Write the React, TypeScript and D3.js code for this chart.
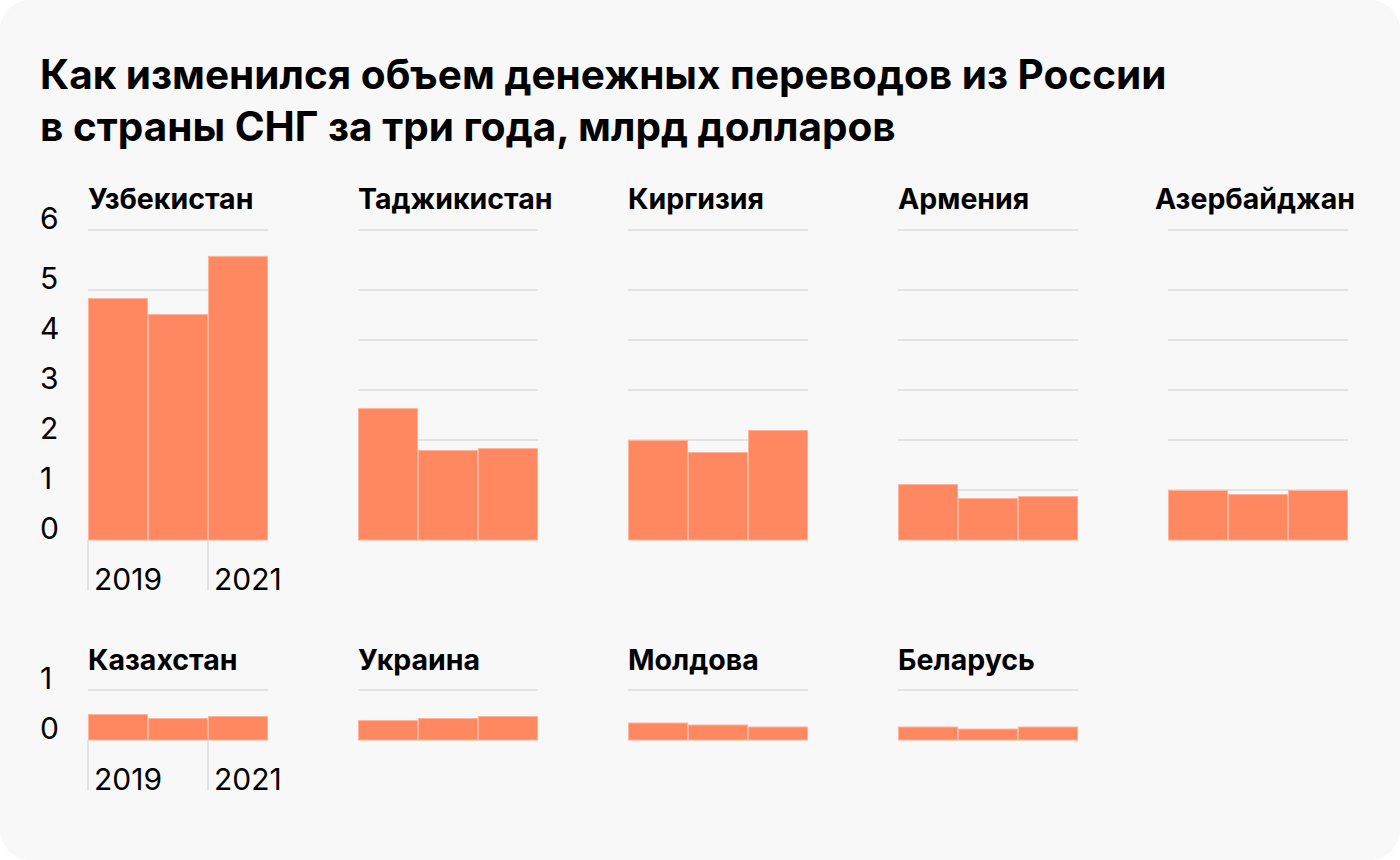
import React from 'react';
import * as d3 from 'd3';

// млрд долларов, 2019–2021
const years = ['2019', '2020', '2021'];
const topCountries = ['Узбекистан', 'Таджикистан', 'Киргизия', 'Армения', 'Азербайджан'];
const topValues = [
  [4.83, 4.51, 5.56],
  [2.63, 1.79, 1.83],
  [1.99, 1.75, 2.19],
  [1.11, 0.83, 0.87],
  [0.99, 0.91, 0.99],
];
const bottomCountries = ['Казахстан', 'Украина', 'Молдова', 'Беларусь'];
const bottomValues = [
  [0.51, 0.43, 0.47],
  [0.39, 0.43, 0.47],
  [0.34, 0.3, 0.26],
  [0.26, 0.22, 0.26],
];
const topTicks = [0, 1, 2, 3, 4, 5, 6];
const bottomTicks = [0, 1];
const yearLabels = ['2019', '2021'];

const W = 1400;
const H = 860;
const FONT = 'Inter, "Noto Sans", sans-serif';
const BAR = '#ff8860';
const GRID = '#e3e3e3';

// panel width 180, step 270
const panelX = d3.scaleBand<number>().domain(d3.range(5)).range([88, 1348]).paddingInner(1 / 3).paddingOuter(0);

type PanelProps = {
  name: string;
  values: number[];
  x0: number;
  y: d3.ScaleLinear<number, number>;
  ticks: number[];
  titleY: number;
  titleX?: number;
  showYears: boolean;
};

const Panel: React.FC<PanelProps> = ({ name, values, x0, y, ticks, titleY, titleX, showYears }) => {
  const w = panelX.bandwidth();
  const x = d3.scaleBand<string>().domain(years).range([x0, x0 + w]).padding(0);
  const base = y(0);
  return (
    <g>
      <text x={titleX ?? x0} y={titleY} fontFamily={FONT} fontWeight={700} fontSize={28.5} fill="#000">
        {name}
      </text>
      {ticks.filter(t => t > 0).map(t => (
        <line key={t} x1={x0} x2={x0 + w} y1={y(t)} y2={y(t)} stroke={GRID} strokeWidth={2} />
      ))}
      {values.map((v, i) => (
        <rect
          key={years[i]}
          x={x(years[i])! + 0.5}
          y={y(v)}
          width={x.bandwidth() - 1}
          height={base - y(v)}
          fill={BAR}
          stroke="#ffb49b"
          strokeWidth={1}
        />
      ))}
      {showYears &&
        yearLabels.map(yr => {
          const tx = x(yr)!;
          return (
            <g key={yr}>
              <line x1={tx} x2={tx} y1={base} y2={base + 50} stroke={GRID} strokeWidth={2} />
              <text x={tx + 6} y={base + 50} fontFamily={FONT} fontSize={30} fill="#000">
                {yr}
              </text>
            </g>
          );
        })}
    </g>
  );
};

const App: React.FC = () => {
  // верхняя линия сетки стоит чуть выше, чем по шагу
  const yTop = d3.scaleLinear().domain([0, 5, 6]).range([540, 290, 230]);
  const yBottom = d3.scaleLinear().domain([0, 1]).range([740, 690]);

  return (
    <svg
      width={W}
      height={H}
      style={{ position: 'absolute', left: 0, top: 0, display: 'block' }}
    >
      <rect x={0} y={0} width={W} height={H} fill="#fff" />
      <rect x={0} y={0} width={W} height={H} rx={30} ry={30} fill="#f8f8f8" />
      <text fontFamily={FONT} fontWeight={700} fontSize={40.5} fill="#000">
        <tspan x={40} y={89}>Как изменился объем денежных переводов из России</tspan>
        <tspan x={40} y={141}>в страны СНГ за три года, млрд долларов</tspan>
      </text>

      {topTicks.map(t => (
        <text key={t} x={40} y={yTop(t) - 1} fontFamily={FONT} fontSize={30} fill="#000">
          {t}
        </text>
      ))}
      {bottomTicks.map(t => (
        <text key={t} x={40} y={yBottom(t) - 1} fontFamily={FONT} fontSize={30} fill="#000">
          {t}
        </text>
      ))}

      {topCountries.map((c, i) => (
        <Panel
          key={c}
          name={c}
          values={topValues[i]}
          x0={panelX(i)!}
          y={yTop}
          ticks={topTicks}
          titleY={209}
          titleX={i === 4 ? 1155 : undefined}
          showYears={i === 0}
        />
      ))}
      {bottomCountries.map((c, i) => (
        <Panel
          key={c}
          name={c}
          values={bottomValues[i]}
          x0={panelX(i)!}
          y={yBottom}
          ticks={bottomTicks}
          titleY={670}
          showYears={i === 0}
        />
      ))}
    </svg>
  );
};

export default App;
